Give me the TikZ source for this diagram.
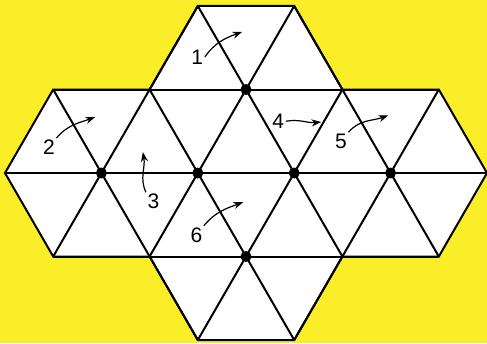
\documentclass[tikz,border=0pt]{standalone}
\usepackage{fontspec}
\setsansfont{Liberation Sans}
\usetikzlibrary{arrows.meta}
\definecolor{bgyellow}{RGB}{249,238,40}
\tikzset{
  grid/.style={line width=2pt,line join=miter},
  dot/.style={circle,fill=black,inner sep=0pt,minimum size=11pt},
  num/.style={font=\sffamily\fontsize{21}{21}\selectfont,inner sep=1.5pt},
  turn/.style={->,line width=1.2pt}
}
\begin{document}
\begin{tikzpicture}[x=48.2pt,y=83.5pt,>={Stealth[length=3.4mm,width=2.5mm]}]
\fill[bgyellow] (-5pt,-170pt) rectangle (482pt,173pt);
\useasboundingbox (-5pt,-170pt) rectangle (482pt,173pt);
\filldraw[grid,fill=white] (0,0) -- (1,1) -- (3,1) -- (4,2) -- (6,2) -- (7,1) -- (9,1) -- (10,0) -- (9,-1) -- (7,-1) -- (6,-2) -- (4,-2) -- (3,-1) -- (1,-1) -- cycle;
\draw[grid] (1,1) -- (9,1) (0,0) -- (10,0) (1,-1) -- (9,-1);
\draw[grid] (1,-1) -- (4,2) (3,-1) -- (6,2) (4,-2) -- (7,1) (6,-2) -- (9,1);
\draw[grid] (1,1) -- (4,-2) (3,1) -- (6,-2) (4,2) -- (7,-1) (6,2) -- (9,-1);
\node[dot] (top) at (5,1) {};
\node[dot] (west) at (2,0) {};
\node[dot] (midl) at (4,0) {};
\node[dot] (midr) at (6,0) {};
\node[dot] (east) at (8,0) {};
\node[dot] (bot) at (5,-1) {};
\node[num] (n1) at (3.99,1.39) {1};
\node[num] (n2) at (0.91,0.31) {2};
\node[num] (n3) at (3.08,-0.34) {3};
\node[num] (n4) at (5.67,0.62) {4};
\node[num] (n5) at (6.97,0.38) {5};
\node[num] (n6) at (3.97,-0.74) {6};
\coordinate (h1) at (4.92,1.69);
\coordinate (h2) at (1.87,0.67);
\coordinate (h3) at (2.86,0.25);
\coordinate (h4) at (6.56,0.61);
\coordinate (h5) at (7.95,0.69);
\coordinate (h6) at (4.94,-0.35);
\draw[turn] (n1.east) to[out=55,in=200] (h1);
\draw[turn] (n2.north east) to[out=50,in=200] (h2);
\draw[turn] (n3.north west) to[out=115,in=-80] (h3);
\draw[turn] (n4.east) to[out=10,in=185] (h4);
\draw[turn] (n5.north east) to[out=50,in=200] (h5);
\draw[turn] (n6.north east) to[out=50,in=200] (h6);
\end{tikzpicture}
\end{document}
